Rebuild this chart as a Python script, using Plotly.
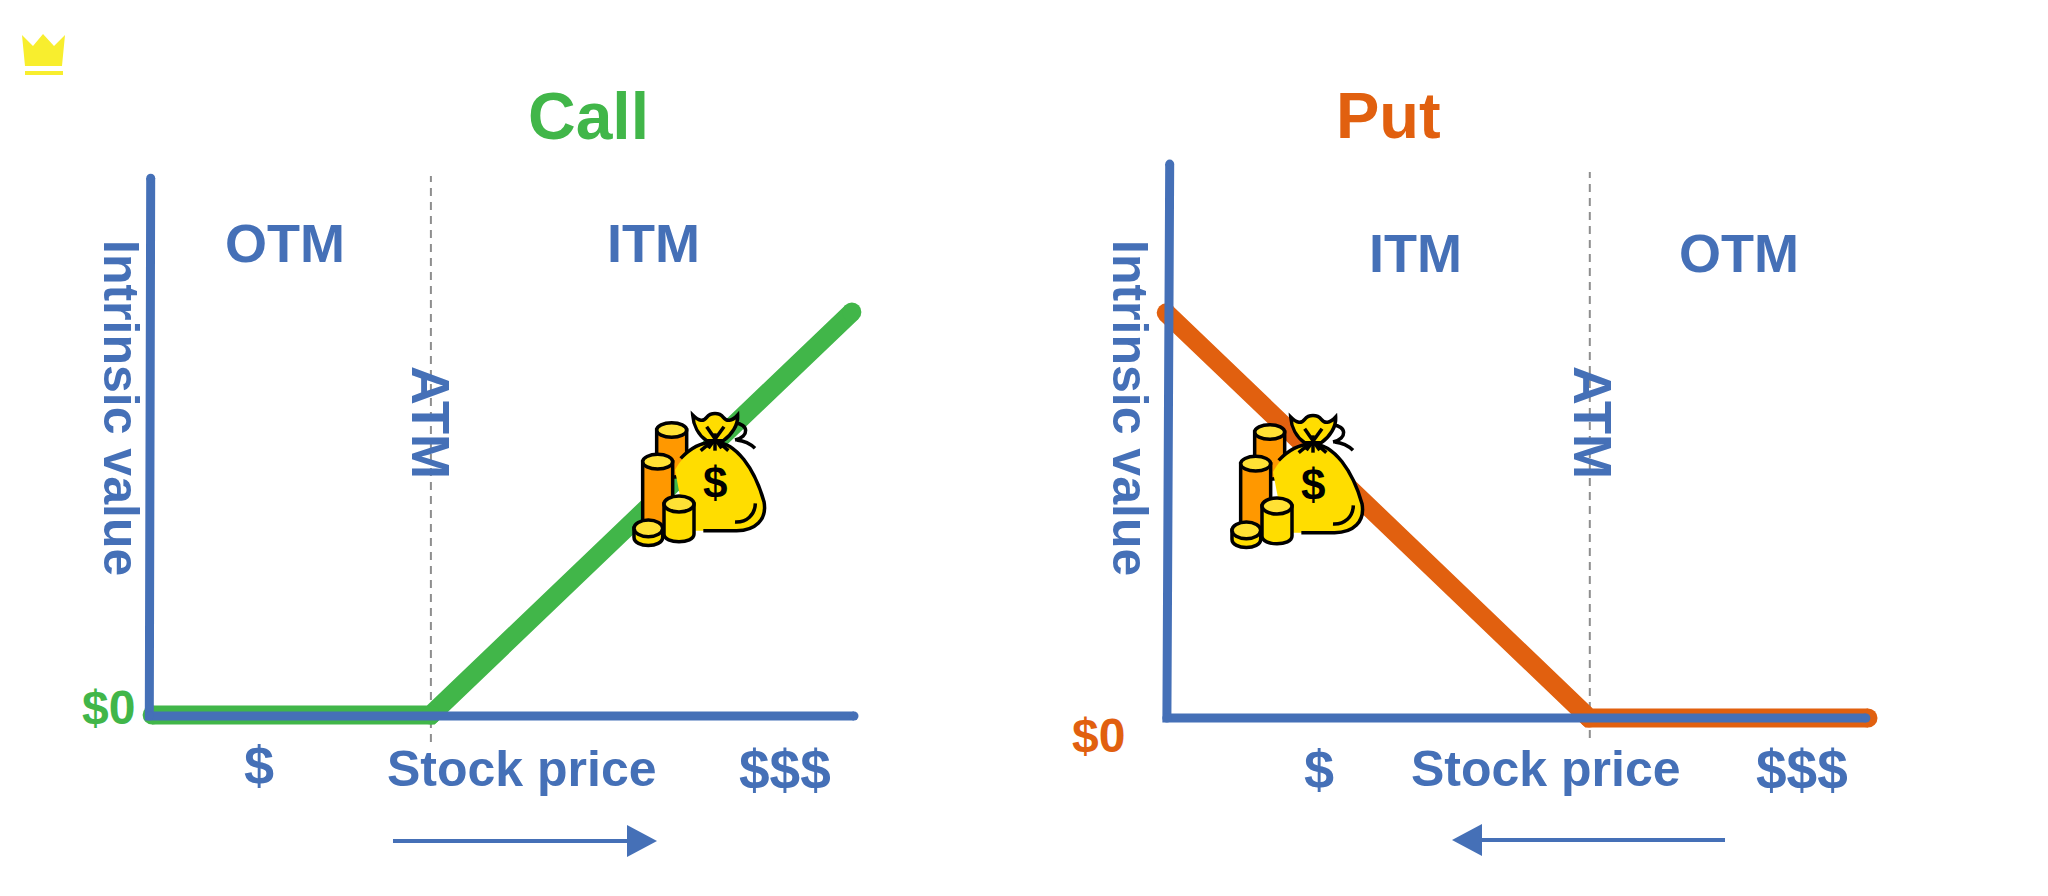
import plotly.graph_objects as go

# ---- data (stock price 0-100, intrinsic value 0-100) ----
call_price = [0.3, 39.9, 99.7]
call_value = [0.2, 0.2, 74.8]
put_price = [-0.4, 60.1, 100.0]
put_value = [73.0, 0.0, 0.0]
call_axis_x = [0.1, -0.1, 100.0]
call_axis_y = [99.6, 0.0, 0.0]
put_axis_x = [0.1, -0.3, 99.7]
put_axis_y = [99.8, 0.0, 0.0]
call_atm_x = [39.9, 39.9]
call_atm_y = [-4.8, 100.0]
put_atm_x = [60.2, 60.2]
put_atm_y = [-3.6, 98.4]

BLUE = "#4570B7"
GREEN = "#41B649"
ORANGE = "#E1600F"
GREY = "#8E8E8E"
FONT = "Liberation Sans"
W, H = 2048, 896

fig = go.Figure()


def series(x, y, color, width, axes, dash=None, markers=True):
    fig.add_trace(go.Scatter(
        x=x, y=y, xaxis=axes[0], yaxis=axes[1], cliponaxis=False, showlegend=False,
        mode="lines+markers" if markers else "lines",
        line=dict(color=color, width=width, dash=dash),
        marker=dict(color=color, size=width, line=dict(width=0)),
    ))


series(call_atm_x, call_atm_y, GREY, 2, ("x", "y"), dash="8px,6px", markers=False)
series(call_price, call_value, GREEN, 19, ("x", "y"))
series(call_axis_x, call_axis_y, BLUE, 9, ("x", "y"))
series(put_atm_x, put_atm_y, GREY, 2, ("x2", "y2"), dash="8px,6px", markers=False)
series(put_price, put_value, ORANGE, 19, ("x2", "y2"))
series(put_axis_x, put_axis_y, BLUE, 9, ("x2", "y2"))

PAD = 10  # axis padding in data units so the thick lines are not clipped


def hidden(p0, p100, vertical, anchor):
    d = (p100 - p0) * PAD / 100
    a, b = p0 - d, p100 + d
    dom = [1 - a / H, 1 - b / H] if vertical else [a / W, b / W]
    return dict(range=[-PAD, 100 + PAD], domain=dom, visible=False, fixedrange=True, anchor=anchor)


fig.update_layout(
    width=W, height=H, margin=dict(l=0, r=0, t=0, b=0),
    paper_bgcolor="white", plot_bgcolor="rgba(0,0,0,0)", showlegend=False,
    xaxis=hidden(150, 854, False, "y"),
    yaxis=hidden(716, 176, True, "x"),
    xaxis2=hidden(1169, 1868, False, "y2"),
    yaxis2=hidden(718, 163, True, "x2"),
)


def label(text, x, y, size, color=BLUE, angle=0, bold=True):
    fig.add_annotation(
        text=f"<b>{text}</b>" if bold else text, x=x / W, y=1 - y / H, xref="paper", yref="paper",
        showarrow=False, textangle=angle, xanchor="center", yanchor="middle",
        font=dict(family=FONT, size=size, color=color),
    )


label("Call", 588, 116, 66, GREEN)
label("Put", 1388, 116, 65, ORANGE)
label("OTM", 285, 243, 54)
label("ITM", 653, 243, 54)
label("ITM", 1415, 253, 54)
label("OTM", 1739, 253, 54)
label("Intrinsic value", 121, 408, 50, angle=90)
label("Intrinsic value", 1130, 408, 50, angle=90)
label("ATM", 431, 422, 54, angle=90)
label("ATM", 1593, 422, 54, angle=90)
label("$0", 108, 707, 48, GREEN)
label("$0", 1098, 735, 48, ORANGE)
label("$", 259, 765, 54)
label("Stock price", 522, 769, 50)
label("$$$", 785, 770, 55)
label("$", 1319, 769, 54)
label("Stock price", 1546, 769, 50)
label("$$$", 1802, 770, 55)


# ---- decorative shapes, in page pixels ----
def px_path(cmds, ox=0.0, oy=0.0, s=1.0):
    out = []
    for c in cmds:
        if isinstance(c, str):
            out.append(c)
        else:
            out.append(f"{(ox + c[0] * s) / W:.5f},{1 - (oy + c[1] * s) / H:.5f}")
    return " ".join(out)


def add_path(cmds, fill=None, stroke=None, sw=0, ox=0.0, oy=0.0, s=1.0):
    fig.add_shape(
        type="path", xref="paper", yref="paper", path=px_path(cmds, ox, oy, s),
        fillcolor=fill if fill else "rgba(0,0,0,0)",
        line=dict(color=stroke if stroke else "rgba(0,0,0,0)", width=sw),
    )


# crown
CROWN = "#F8EE2E"
add_path(["M", (22, 35), "L", (33, 46), "L", (43, 34), "L", (54, 46), "L", (65, 35), "L", (62, 66), "L", (25, 66), "Z"], fill=CROWN)
add_path(["M", (25, 71), "L", (63, 71), "L", (63, 75), "L", (25, 75), "Z"], fill=CROWN)

# arrows
add_path(["M", (393, 841), "L", (630, 841)], stroke=BLUE, sw=4)
add_path(["M", (627, 825), "L", (657, 841), "L", (627, 857), "Z"], fill=BLUE)
add_path(["M", (1725, 840), "L", (1480, 840)], stroke=BLUE, sw=4)
add_path(["M", (1482, 824), "L", (1452, 840), "L", (1482, 856), "Z"], fill=BLUE)


# money bag icon, local units are 1/3 px
def ell(cx, cy, rx, ry):
    k = 0.5523
    return ["M", (cx - rx, cy),
            "C", (cx - rx, cy - k * ry), (cx - k * rx, cy - ry), (cx, cy - ry),
            "C", (cx + k * rx, cy - ry), (cx + rx, cy - k * ry), (cx + rx, cy),
            "C", (cx + rx, cy + k * ry), (cx + k * rx, cy + ry), (cx, cy + ry),
            "C", (cx - k * rx, cy + ry), (cx - rx, cy + k * ry), (cx - rx, cy), "Z"]


def cylinder(cx, top, bottom, rx, ry, body, cap, o):
    add_path(["M", (cx - rx, top), "L", (cx - rx, bottom),
              "C", (cx - rx, bottom + ry * 1.3), (cx + rx, bottom + ry * 1.3), (cx + rx, bottom),
              "L", (cx + rx, top), "Z"], fill=body, stroke="black", sw=3.5, **o)
    add_path(ell(cx, top, rx, ry), fill=cap, stroke="black", sw=3.5, **o)


def bag(ox, oy):
    o = dict(ox=ox, oy=oy, s=1 / 3)
    GOLD = "#FFDD00"
    ORG = "#FF9800"
    CAP = "#FFE135"
    cylinder(335, 150, 270, 45, 22, ORG, CAP, o)
    # loop behind the knot
    add_path(["M", (525, 130), "C", (565, 130), (570, 170), (525, 180)], stroke="black", sw=3.5, **o)
    add_path(["M", (530, 180), "C", (550, 182), (570, 190), (585, 205)], stroke="black", sw=3.5, **o)
    # bag body
    add_path(["M", (345, 270), "C", (375, 215), (420, 185), (460, 185),
              "C", (530, 185), (585, 270), (612, 365),
              "C", (622, 420), (585, 452), (530, 452),
              "L", (380, 452), "Z"], fill=GOLD, **o)
    add_path(["M", (362, 235), "C", (390, 205), (425, 187), (460, 185),
              "C", (530, 185), (585, 270), (612, 365),
              "C", (622, 420), (585, 452), (530, 452),
              "L", (430, 452)], stroke="black", sw=3.5, **o)
    add_path(["M", (525, 426), "C", (560, 428), (585, 405), (586, 370)], stroke="black", sw=3.5, **o)
    # coins in front
    cylinder(293, 245, 425, 45, 22, ORG, CAP, o)
    cylinder(357, 372, 462, 45, 24, GOLD, CAP, o)
    cylinder(265, 445, 472, 43, 25, GOLD, CAP, o)
    # neck frill
    add_path(["M", (398, 105), "C", (418, 125), (430, 125), (440, 112),
              "C", (452, 97), (478, 97), (490, 112),
              "C", (500, 125), (515, 125), (533, 105),
              "C", (535, 135), (515, 165), (490, 182),
              "L", (440, 182),
              "C", (415, 165), (400, 135), (398, 105), "Z"], fill=GOLD, stroke="black", sw=3.5, **o)
    # knot ties
    for a, b in [((440, 140), (485, 205)), ((492, 140), (445, 205)), ((465, 160), (465, 212)),
                 ((422, 212), (455, 185)), ((505, 212), (475, 185))]:
        add_path(["M", a, "L", b], stroke="black", sw=3.5, **o)
    # dollar sign
    fig.add_annotation(text="<b>$</b>", x=(ox + 466 / 3) / W, y=1 - (oy + 307 / 3) / H, xref="paper", yref="paper",
                       showarrow=False, xanchor="center", yanchor="middle",
                       font=dict(family=FONT, size=44, color="black"))


bag(560, 380)
bag(1158, 382)

fig.write_html("out.html", config={"displayModeBar": False}, post_script="document.body.style.margin='0';")
